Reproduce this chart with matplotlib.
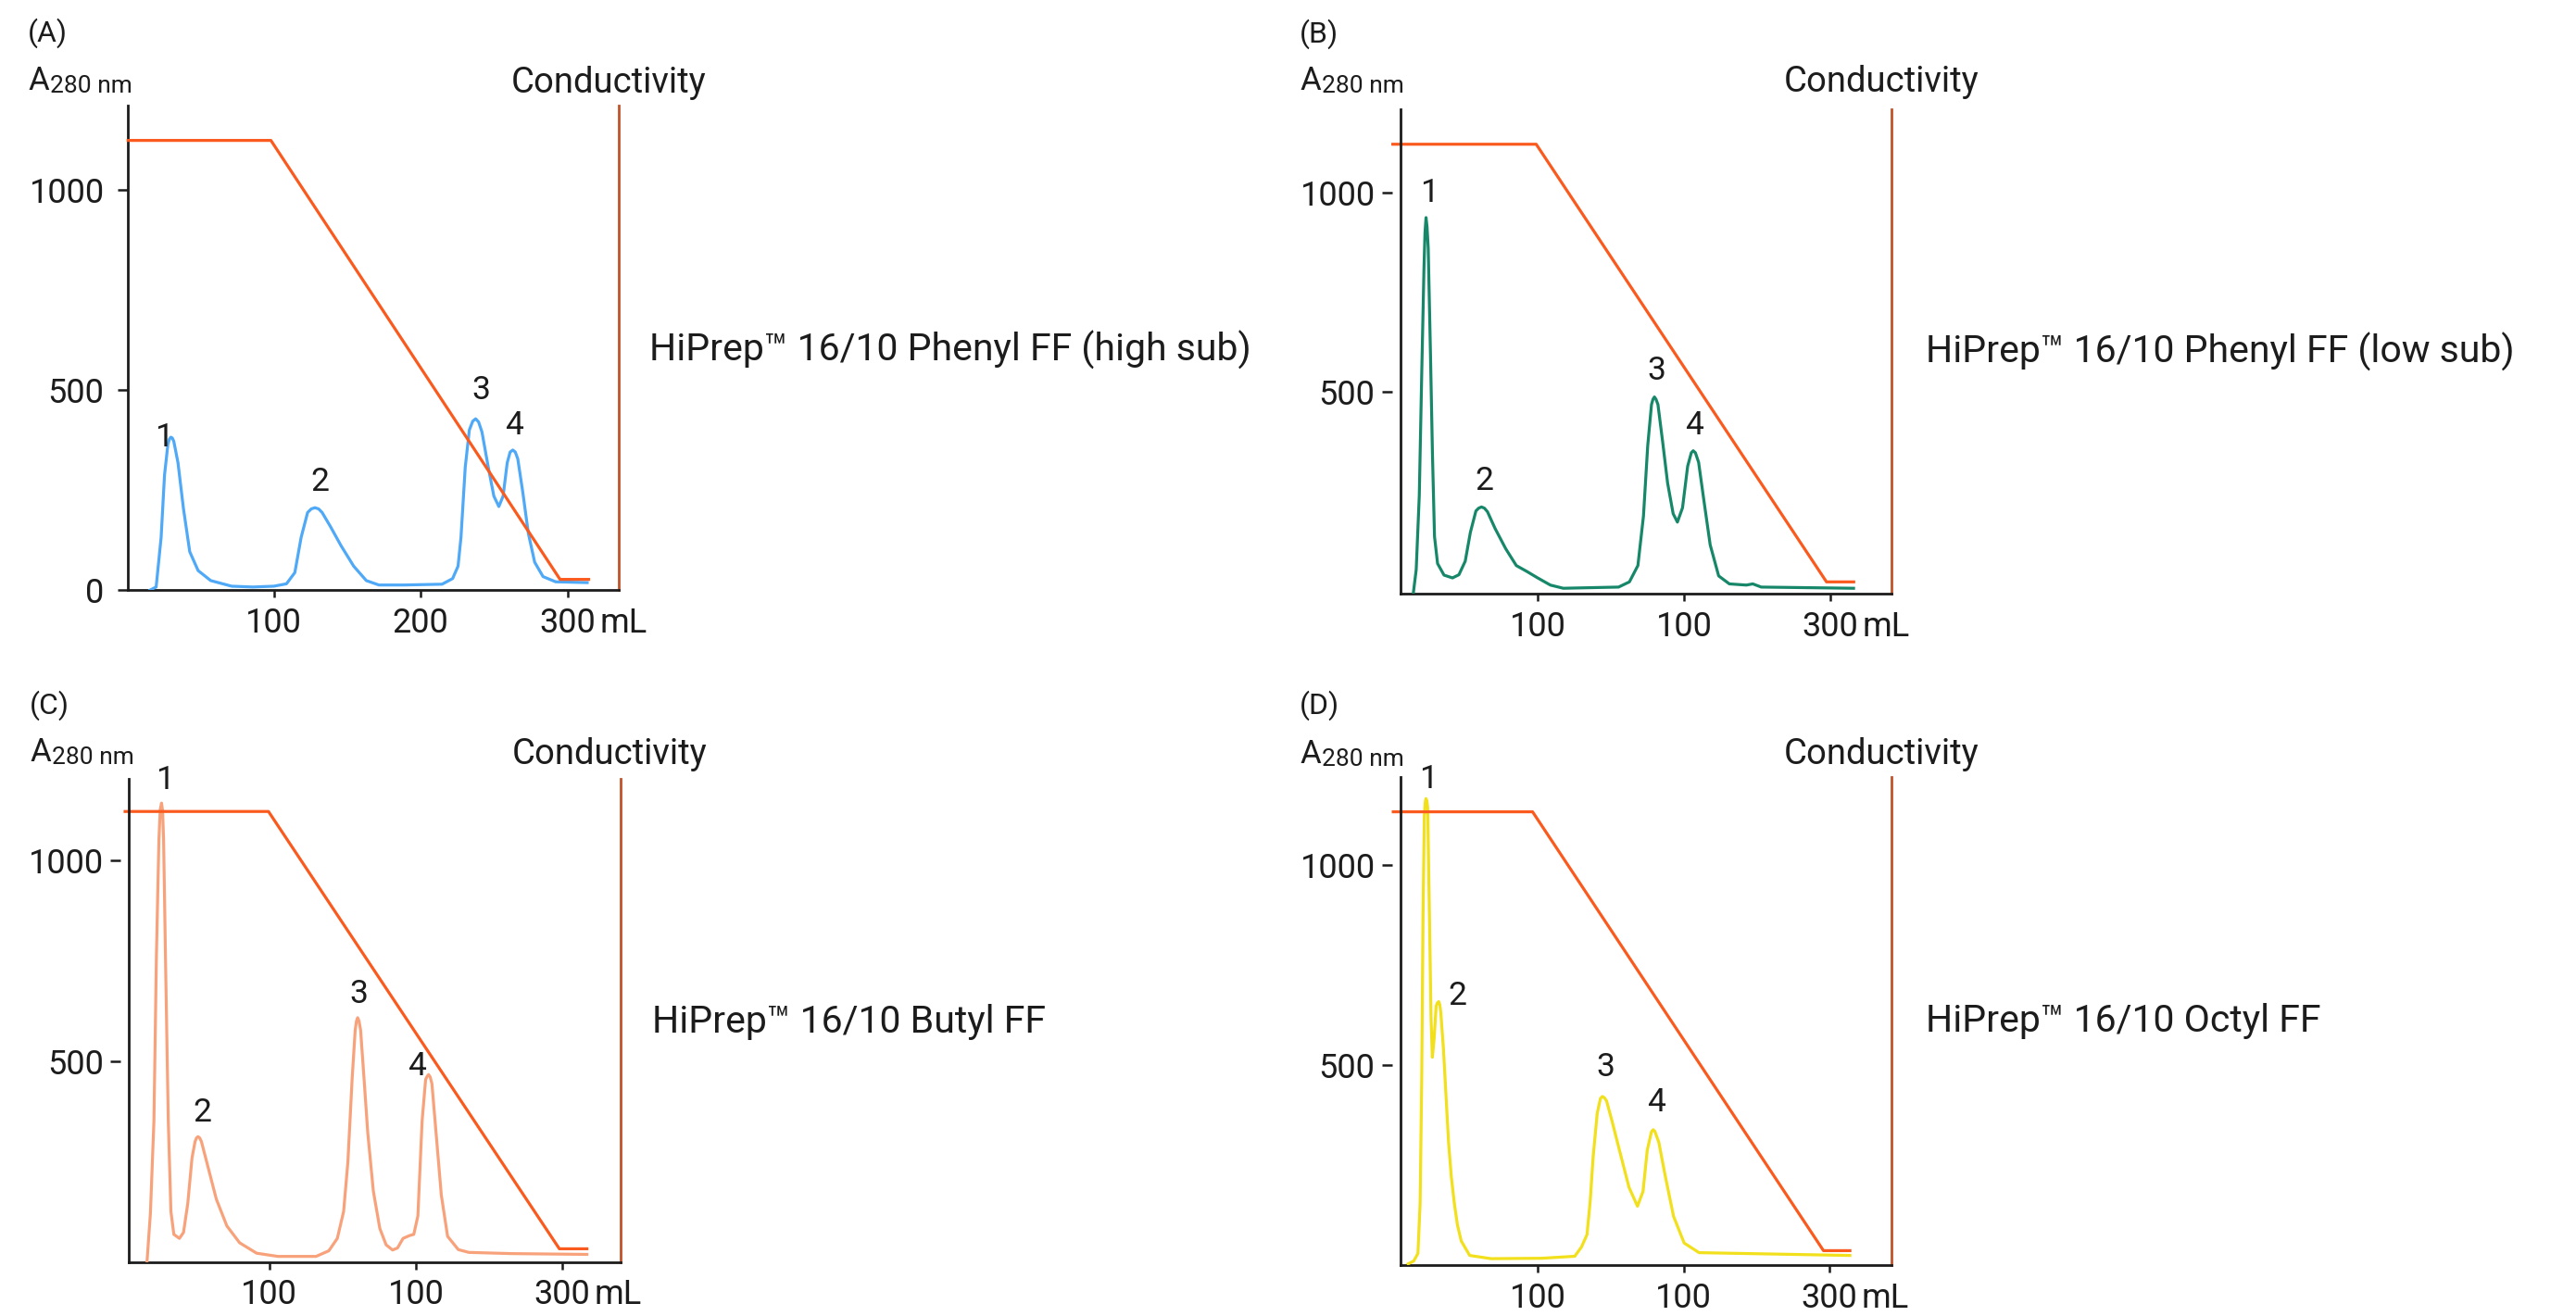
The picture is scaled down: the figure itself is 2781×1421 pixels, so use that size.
import matplotlib.pyplot as plt

plt.rcParams['font.family'] = ['Roboto', 'DejaVu Sans']

W, H = 2781, 1421

# (A) HiPrep 16/10 Phenyl FF (high sub): elution volume (mL) vs A280
phenyl_high_ml = [15.5, 19.8, 23.2, 25.5, 27.8, 28.8, 29.8, 30.8, 31.8, 33, 34.7, 38.4, 42.7, 48.4, 57,
                  71.3, 85.7, 100, 108.6, 114.3, 118.6, 123, 125.5, 128, 130.5, 132.9, 138.7, 145.8,
                  154.4, 163, 171.6, 188.8, 214.6, 221.8, 225.5, 227.5, 230.4, 233.2, 235.5, 237.5,
                  239.5, 241.8, 246.1, 249.9, 253.3, 256.2, 259, 261, 262.8, 264.5, 266.2, 269.6,
                  273.4, 277.7, 283.4, 292, 313.5]
phenyl_high_abs = [0, 8, 132, 287, 364, 377, 382, 380, 372, 350, 318, 204, 96, 49, 24,
                   10, 8, 10, 16, 44, 132, 194, 203, 206, 203, 194, 158, 111,
                   60, 24, 13, 13, 15, 29, 60, 132, 307, 400, 422, 428,
                   420, 395, 307, 235, 209, 235, 318, 345, 350, 345, 328, 245,
                   142, 70, 34, 21, 19]

# (B) HiPrep 16/10 Phenyl FF (low sub)
phenyl_low_ml = [15, 17, 19.1, 20.8, 22.3, 23, 23.7, 24.4, 25.2, 26.7, 28.1, 29.5, 31.6, 36, 41.8,
                 46.2, 50.5, 54, 57.8, 59.7, 61.6, 63.6, 65.7, 70.9, 78.2, 85.4, 92.7, 100, 108.7,
                 117.5, 155.3, 162.7, 168.5, 172.3, 175.2, 177.8, 178.8, 179.8, 180.9, 182.2, 185.4,
                 188.8, 192.6, 195.5, 199, 202.5, 205, 206.3, 207.8, 210, 213.5, 217.9, 223.7, 231,
                 242.6, 247, 252.8, 315.9]
phenyl_low_abs = [-5, 55, 241, 552, 811, 900, 938, 915, 862, 604, 345, 138, 70, 41, 34,
                  42, 76, 148, 202, 209, 212, 209, 200, 158, 107, 65, 50, 34, 16,
                  8, 11, 24, 65, 189, 365, 469, 482, 488, 482, 469, 376,
                  272, 195, 174, 210, 314, 348, 353, 348, 324, 231, 117, 39, 19,
                  16, 19, 11, 8]

# (C) HiPrep 16/10 Butyl FF
butyl_ml = [16.5, 18.8, 21.2, 22.9, 24.6, 25.5, 26.4, 27.1, 27.8, 29.3, 31, 32.8, 34.8, 38.6, 41.4,
            44.3, 47.2, 49.3, 50.3, 51.3, 52.4, 53.6, 58, 63.8, 71, 79.7, 91.3, 105.8, 131.9, 140.6,
            146.4, 150.7, 153.6, 156.5, 158.6, 159.5, 160.3, 161.2, 162.3, 164.3, 167.2, 171, 175.4,
            179.7, 184.1, 187.5, 191.3, 195.7, 198.6, 201.4, 204.3, 206.7, 207.8, 208.7, 209.8, 211,
            213.6, 217.4, 221.7, 229, 236.2, 265.2, 316.8]
butyl_abs = [0, 120, 351, 763, 1052, 1128, 1144, 1125, 1052, 711, 351, 124, 67, 57, 72,
             144, 258, 299, 308, 311, 308, 299, 237, 155, 88, 46, 20, 12, 12, 26,
             57, 124, 247, 454, 577, 600, 608, 600, 577, 474, 320, 175, 82,
             41, 28, 33, 57, 64, 67, 113, 351, 454, 462, 466, 460, 443,
             330, 165, 62, 29, 22, 19, 17]

# (D) HiPrep 16/10 Octyl FF
octyl_ml = [11.2, 15, 17.9, 19.4, 20.5, 21.4, 22.3, 22.9, 23.4, 24, 24.6, 25.8, 26.9, 27.8, 29,
            30.4, 31.3, 32.2, 32.9, 33.6, 35.4, 37.2, 38.9, 40.8, 42.9, 45, 47.6, 53.4, 68, 102.9,
            125.4, 130, 133.8, 136, 138, 140.8, 143, 144.3, 145.7, 147.2, 151, 156.8, 162.6, 168.4,
            172.2, 175.1, 178, 179.2, 180.3, 183, 187.3, 193.1, 200.4, 210.6, 314]
octyl_abs = [3, 10, 29, 153, 462, 874, 1122, 1155, 1165, 1160, 1142, 874, 616, 519, 565,
             647, 655, 658, 650, 630, 540, 420, 307, 220, 153, 100, 60, 24, 16, 17,
             22, 45, 76, 160, 270, 379, 416, 421, 418, 410, 359, 276, 194, 147,
             184, 287, 333, 338, 334, 307, 225, 122, 55, 31, 24]

# conductivity gradient (step, linear decrease, step)
cond_ml = [[0.7, 98, 295, 314.5], [1, 99, 297.4, 316], [1.5, 99.4, 298, 316.8], [1, 96.5, 295.9, 314]]
cond_val = [[1123, 1123, 27, 27], [1122, 1122, 24, 24], [1123, 1123, 31, 31], [1132, 1132, 36, 36]]

# peak number labels (mL, A280)
peak_names = ['1', '2', '3', '4']
peak_ml = [[24.9, 131.5, 241.3, 263.9], [25.8, 63.6, 181.5, 207.1],
           [28.4, 54.5, 160.9, 200.9], [24.9, 44.7, 146.6, 181.5]]
peak_abs = [[382, 271, 500, 410], [999, 277, 554, 417],
            [1201, 371, 667, 487], [1212, 673, 493, 405]]

panel_letters = ['(A)', '(B)', '(C)', '(D)']
column_names = ['HiPrep™ 16/10 Phenyl FF (high sub)', 'HiPrep™ 16/10 Phenyl FF (low sub)',
                'HiPrep™ 16/10 Butyl FF', 'HiPrep™ 16/10 Octyl FF']
xtick_vals = [100, 200, 300]
xtick_labels = [['100', '200', '300'], ['100', '100', '300'], ['100', '100', '300'], ['100', '100', '300']]
ytick_vals = [[0, 500, 1000], [500, 1000], [500, 1000], [500, 1000]]

traces = [(phenyl_high_ml, phenyl_high_abs), (phenyl_low_ml, phenyl_low_abs),
          (butyl_ml, butyl_abs), (octyl_ml, octyl_abs)]
trace_colors = ['#4fa9f6', '#17876a', '#f8a27b', '#f2e01c']

# layout in pixels: left, right, top, bottom of the plotting frame
frames = [(138.3, 668, 114, 637.3), (1511.7, 2042, 118.3, 640.8),
          (139.3, 670.3, 841.2, 1362.7), (1511.7, 2042, 839.4, 1366)]
xlims = [(0.7, 335), (6.1, 341.8), (4.2, 340), (5.8, 342.5)]
ylims = [(0, 1210), (-5, 1209), (-2, 1204), (0, 1218)]
# text anchors: letter (x, y centre), A280 baseline, Conductivity (x, baseline), name (x, baseline)
letter_pos = [(30, 36), (1403, 37), (32, 762), (1403, 762)]
a280_pos = [(30, 97), (1403, 97), (32, 822), (1403, 824)]
cond_label_pos = [(552, 100), (1926, 99), (553, 825), (1926, 825)]
name_pos = [(701, 390), (2079, 392), (704, 1115), (2079, 1114)]

TXT = '#1c1c1c'
COND = '#fa5a1e'
RAXIS = '#c0532a'


def fx(px):
    return px / W


def fy(py):
    return 1 - py / H


fig = plt.figure(figsize=(W / 100, H / 100), dpi=100)

for i in range(4):
    l, r, t, b = frames[i]
    ax = fig.add_axes([fx(l), fy(b), (r - l) / W, (b - t) / H])
    ax.set_xlim(*xlims[i])
    ax.set_ylim(*ylims[i])
    ax.patch.set_alpha(0)

    x, y = traces[i]
    ax.plot(x, y, color=trace_colors[i], lw=2.3, solid_joinstyle='round', zorder=3)
    ax.plot(cond_ml[i], cond_val[i], color=COND, lw=2.3, zorder=4, clip_on=False)

    for name, px_, py_ in zip(peak_names, peak_ml[i], peak_abs[i]):
        ax.text(px_, py_, name, fontsize=25.5, color=TXT, ha='center', va='center', zorder=5)

    ax.spines['top'].set_visible(False)
    ax.spines['right'].set_color(RAXIS)
    ax.spines['right'].set_linewidth(2.0)
    ax.spines['bottom'].set_color(TXT)
    ax.spines['bottom'].set_linewidth(2.0)

    if i == 0:
        ax.spines['left'].set_color(TXT)
        ax.spines['left'].set_linewidth(2.0)
        ax.tick_params(axis='y', direction='out', length=8, width=1.8, pad=10.5,
                       labelsize=26, colors=TXT)
    else:
        # ticks sit a little away from the axis line
        ax.spines['left'].set_position(('outward', 6.5))
        ax.spines['left'].set_visible(False)
        ax.axvline(xlims[i][0], color=TXT, lw=2.0, clip_on=False, zorder=6)
        ax.tick_params(axis='y', direction='out', length=8, width=1.8, pad=5,
                       labelsize=26, colors=TXT)
    ax.set_yticks(ytick_vals[i])
    ax.set_xticks(xtick_vals)
    ax.set_xticklabels(xtick_labels[i])
    ax.tick_params(axis='x', direction='out', length=5.8, width=1.8, pad=7,
                   labelsize=26, colors=TXT)
    ax.annotate('mL', xy=(300, 0), xycoords=('data', 'axes fraction'),
                xytext=(25, -12.8), textcoords='offset points',
                fontsize=26, color=TXT, ha='left', va='top')

    lx, ly = letter_pos[i]
    fig.text(fx(lx), fy(ly), panel_letters[i], fontsize=23, color=TXT, ha='left', va='center')
    ax_, ay_ = a280_pos[i]
    fig.text(fx(ax_), fy(ay_), 'A', fontsize=25, color=TXT, ha='left', va='baseline')
    fig.text(fx(ax_ + 24), fy(ay_ + 3), '280 nm', fontsize=19, color=TXT, ha='left', va='baseline')
    cx, cy = cond_label_pos[i]
    fig.text(fx(cx), fy(cy), 'Conductivity', fontsize=27.5, color=TXT, ha='left', va='baseline')
    nx, ny = name_pos[i]
    fig.text(fx(nx), fy(ny), column_names[i], fontsize=29.5, color=TXT, ha='left', va='baseline')

fig.savefig('out.png', dpi=100, facecolor='white')
